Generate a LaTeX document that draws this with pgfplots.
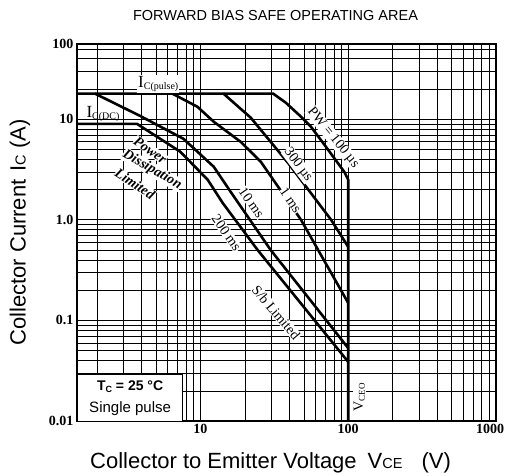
\documentclass[border=0pt]{standalone}
\usepackage{fontspec}
\setmainfont{Liberation Serif}
\setsansfont{Liberation Sans}
\usepackage{pgfplots}
\pgfplotsset{compat=1.18}
\begin{document}
\begin{tikzpicture}
\path[use as bounding box] (0,0) rectangle (505pt,475pt);
\begin{axis}[
  at={(77pt,54pt)}, anchor=south west,
  scale only axis, width=419pt, height=377pt,
  xmode=log, ymode=log,
  xmin=1.46, xmax=1000, ymin=0.01, ymax=56,
  xtick={10,100,1000}, xticklabels={10,100,{\hspace*{-12pt}1000}},
  minor xtick={2,3,4,5,6,7,8,9,20,30,40,50,60,70,80,90,200,300,400,500,600,700,800,900},
  ytick={0.01,0.1,1,10}, yticklabels={0.01,0.1,1.0,10},
  extra y ticks={56}, extra y tick labels={100},
  extra y tick style={grid=none},
  minor ytick={0.02,0.03,0.04,0.05,0.06,0.07,0.08,0.09,0.2,0.3,0.4,0.5,0.6,0.7,0.8,0.9,2,3,4,5,6,7,8,9,20,30,40,50},
  grid=both,
  major grid style={black, line width=0.9pt},
  minor grid style={black, line width=0.45pt},
  axis line style={black, line width=1.4pt},
  tick style={draw=none},
  /pgf/number format/assume math mode=true,
  ticklabel style={font=\bfseries\fontsize{14}{14}\selectfont},
  xlabel={Collector to Emitter Voltage\hspace{11pt}V{\fontsize{14.5}{14}\selectfont CE}\hspace{19pt}(V)},
  ylabel={Collector Current\hspace{8pt}I{\fontsize{14.5}{14}\selectfont C} (A)},
  xlabel style={font=\sffamily\fontsize{22}{24}\selectfont, at={(axis description cs:0.5,0)}, anchor=center, yshift=-42pt, xshift=-16pt},
  ylabel style={font=\sffamily\fontsize{22}{24}\selectfont, at={(axis description cs:0,0.5)}, anchor=center, yshift=57pt},
  title={FORWARD BIAS SAFE OPERATING AREA},
  title style={font=\sffamily\fontsize{14.5}{16}\selectfont, at={(axis description cs:0.5,1)}, anchor=center, yshift=22pt, xshift=-11pt},
]
% PW = 100 us and V_CEO limit
\addplot[black, line width=2.6pt, line join=round] coordinates {(1.46,18) (31,18) (37.8,14.6) (47.9,10.6) (56,8.4) (70.8,5.3) (94,3.0) (100,2.5) (100,0.01)};
% 300 us
\addplot[black, line width=2.6pt, line join=round] coordinates {(14.3,18) (21.9,10.35) (39.1,3.69) (76.6,1.0) (100,0.538)};
% 1 ms
\addplot[black, line width=2.6pt, line join=round] coordinates {(6.45,18) (9.54,13.3) (12.3,9.44) (18.7,5.97) (25.6,3.78) (47.9,1.0) (100,0.149)};
% 10 ms
\addplot[black, line width=2.6pt, line join=round] coordinates {(1.93,18) (3.9,10.8) (7.66,6.4) (12.3,3.37) (16,1.9) (29.9,0.5) (100,0.053)};
% DC / 200 ms
\addplot[black, line width=2.6pt, line join=round] coordinates {(1.46,9) (3.72,9) (7.31,4.75) (11.2,2.5) (14.1,1.48) (24.4,0.5) (100,0.0387)};

\draw[black, line width=0.8pt, fill=white] (axis cs:1.46,0.01) rectangle (axis cs:7.55,0.0294);
\node[font=\sffamily\bfseries\fontsize{14}{14}\selectfont] at (axis cs:3.34,0.0218) {T\raisebox{-0.3ex}{\fontsize{9}{9}\selectfont C} = 25 °C};
\node[font=\sffamily\fontsize{15}{15}\selectfont] at (axis cs:3.34,0.01315) {Single pulse};

\node[fill=white, inner sep=1pt, font=\fontsize{17}{17}\selectfont] at (axis cs:5.18,22.5) {I\raisebox{-0.3ex}{\fontsize{10}{10}\selectfont C(pulse)}};
\node[inner sep=1pt, font=\fontsize{17}{17}\selectfont] at (axis cs:2.19,11.2) {I\raisebox{-0.3ex}{\fontsize{10}{10}\selectfont C(DC)}};
\node[rotate=-35, fill=white, inner sep=0.5pt, font=\bfseries\itshape\fontsize{14}{14}\selectfont] at (axis cs:4.57,4.95) {Power};
\node[rotate=-30, fill=white, inner sep=0.5pt, font=\bfseries\itshape\fontsize{14}{14}\selectfont] at (axis cs:4.71,3.15) {Dissipation};
\node[rotate=-33, fill=white, inner sep=0.5pt, font=\bfseries\itshape\fontsize{14}{14}\selectfont] at (axis cs:3.61,2.28) {Limited};
\node[rotate=-51, fill=white, inner sep=0.5pt, font=\fontsize{14}{14}\selectfont] at (axis cs:79,6.55) {PW = 100 µs};
\node[rotate=-53, fill=white, inner sep=0.5pt, font=\fontsize{14}{14}\selectfont] at (axis cs:45.7,3.52) {300 µs};
\node[rotate=-55, fill=white, inner sep=0.5pt, font=\fontsize{14}{14}\selectfont] at (axis cs:40.9,1.58) {1 ms};
\node[rotate=-55, fill=white, inner sep=0.5pt, font=\fontsize{14}{14}\selectfont] at (axis cs:22.2,1.48) {10 ms};
\node[rotate=-55, fill=white, inner sep=0.5pt, font=\fontsize{14}{14}\selectfont] at (axis cs:15,0.74) {200 ms};
\node[rotate=-50, fill=white, inner sep=0.5pt, font=\fontsize{14}{14}\selectfont] at (axis cs:32.5,0.12) {S/b Limited};
\node[rotate=90, fill=white, inner sep=0.5pt, font=\fontsize{14}{14}\selectfont] at (axis cs:119,0.0173) {V\raisebox{-0.3ex}{\fontsize{9}{9}\selectfont CEO}};
\end{axis}
\end{tikzpicture}
\end{document}
